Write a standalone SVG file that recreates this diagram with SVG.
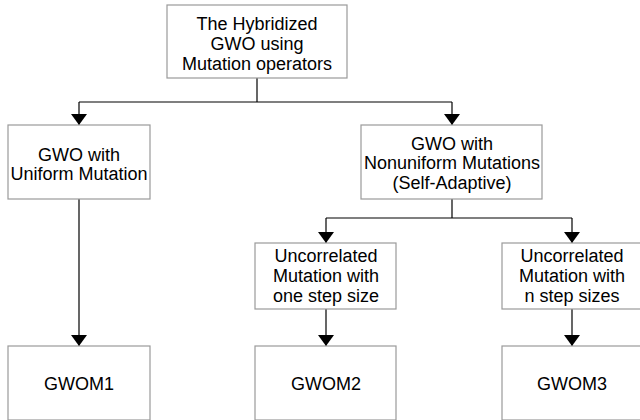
<svg xmlns="http://www.w3.org/2000/svg" width="640" height="420" viewBox="0 0 640 420">
<defs>
<marker id="ah" markerWidth="11" markerHeight="16" refX="16" refY="5.5" orient="auto" markerUnits="userSpaceOnUse" viewBox="0 0 16 11" preserveAspectRatio="none">
<path d="M0,0 L16,5.5 L0,11 Z" fill="#000"/>
</marker>
<style>
.box{fill:#fff;stroke:#9a9a9a;stroke-width:1.2}
.t{font-family:"Liberation Sans",Arial,sans-serif;font-size:18px;fill:#000;text-anchor:middle}
.c{fill:none;stroke:#000;stroke-width:1.2}
</style>
</defs>
<rect width="640" height="420" fill="#fff"/>
<g id="connectors">
<path class="c" d="M257,78 V102"/>
<path class="c" d="M79,102 H452"/>
<path class="c" d="M79,102 V125" marker-end="url(#ah)"/>
<path class="c" d="M452,102 V125" marker-end="url(#ah)"/>
<path class="c" d="M79,199 V346" marker-end="url(#ah)"/>
<path class="c" d="M452,199 V218"/>
<path class="c" d="M326,218 H572"/>
<path class="c" d="M326,218 V243" marker-end="url(#ah)"/>
<path class="c" d="M572,218 V243" marker-end="url(#ah)"/>
<path class="c" d="M326,309 V346" marker-end="url(#ah)"/>
<path class="c" d="M572,309 V346" marker-end="url(#ah)"/>
</g>
<g id="root">
<rect class="box" x="167" y="5" width="180" height="73"/>
<text class="t" x="257" y="29.5">The Hybridized</text>
<text class="t" x="257" y="49.5">GWO using</text>
<text class="t" x="257" y="69.5">Mutation operators</text>
</g>
<g id="uniform">
<rect class="box" x="8" y="125" width="142" height="74"/>
<text class="t" x="79" y="161">GWO with</text>
<text class="t" x="79" y="180">Uniform Mutation</text>
</g>
<g id="nonuniform">
<rect class="box" x="361" y="125" width="181" height="74"/>
<text class="t" x="452" y="149.5">GWO with</text>
<text class="t" x="452" y="169">Nonuniform Mutations</text>
<text class="t" x="452" y="188.5">(Self-Adaptive)</text>
</g>
<g id="onestep">
<rect class="box" x="255" y="243" width="141" height="66"/>
<text class="t" x="326" y="261.5">Uncorrelated</text>
<text class="t" x="326" y="281.5">Mutation with</text>
<text class="t" x="326" y="301.5">one step size</text>
</g>
<g id="nstep">
<rect class="box" x="502" y="243" width="140" height="66"/>
<text class="t" x="572" y="261.5">Uncorrelated</text>
<text class="t" x="572" y="281.5">Mutation with</text>
<text class="t" x="572" y="301.5">n step sizes</text>
</g>
<g id="gwom1">
<rect class="box" x="8" y="346" width="142" height="74"/>
<text class="t" x="79" y="389.5">GWOM1</text>
</g>
<g id="gwom2">
<rect class="box" x="255" y="346" width="141" height="74"/>
<text class="t" x="326" y="389.5">GWOM2</text>
</g>
<g id="gwom3">
<rect class="box" x="502" y="346" width="140" height="74"/>
<text class="t" x="572" y="389.5">GWOM3</text>
</g>
</svg>
